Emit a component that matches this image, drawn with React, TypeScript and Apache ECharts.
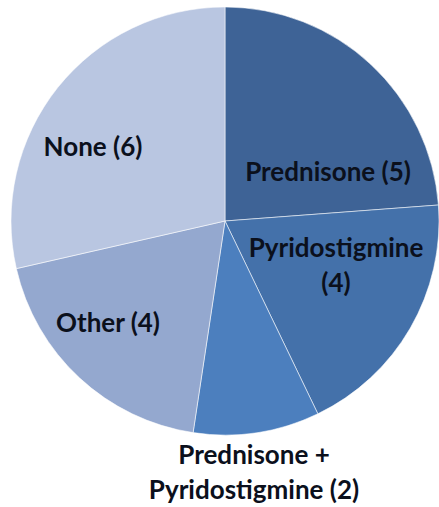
import React, { useEffect, useRef } from "react";
import * as echarts from "echarts";

const categories = ["Prednisone", "Pyridostigmine", "Prednisone + Pyridostigmine", "Other", "None"];
const values = [5, 4, 2, 4, 6];
const labelTexts = ["Prednisone (5)", "Pyridostigmine\n(4)", "Prednisone +\nPyridostigmine (2)", "Other (4)", "None (6)"];
const colors = ["#3E6396", "#4471AA", "#4C7FBE", "#94A8CF", "#B9C6E1"];
const labelPos: [number, number][] = [
  [328, 171],
  [336, 264],
  [254, 471],
  [108, 322],
  [93, 146],
];

export default function App() {
  const ref = useRef<HTMLDivElement>(null);
  useEffect(() => {
    if (!ref.current) return;
    const chart = echarts.init(ref.current, undefined, { renderer: "svg" });
    chart.setOption({
      animation: false,
      backgroundColor: "#ffffff",
      series: [
        {
          type: "pie",
          center: [225, 221],
          radius: 214,
          startAngle: 90,
          clockwise: true,
          data: categories.map((c, i) => ({
            name: c,
            value: values[i],
            itemStyle: { color: colors[i] },
          })),
          itemStyle: { borderColor: "rgba(255,255,255,0.55)", borderWidth: 1 },
          label: {
            show: true,
            position: "inside",
            formatter: (p: any) => labelTexts[p.dataIndex],
            fontFamily: "Lato",
            fontWeight: "bold",
            fontSize: 26,
            lineHeight: 35,
            color: "#0b101c",
          },
          labelLine: { show: false },
          labelLayout: (p: any) => ({
            x: labelPos[p.dataIndex][0],
            y: labelPos[p.dataIndex][1],
            align: "center",
            verticalAlign: "middle",
          }),
          emphasis: { disabled: true },
        },
      ],
    });
    return () => chart.dispose();
  }, []);
  return (
    <div
      ref={ref}
      style={{ position: "fixed", left: 0, top: 0, width: 439, height: 507 }}
    />
  );
}
